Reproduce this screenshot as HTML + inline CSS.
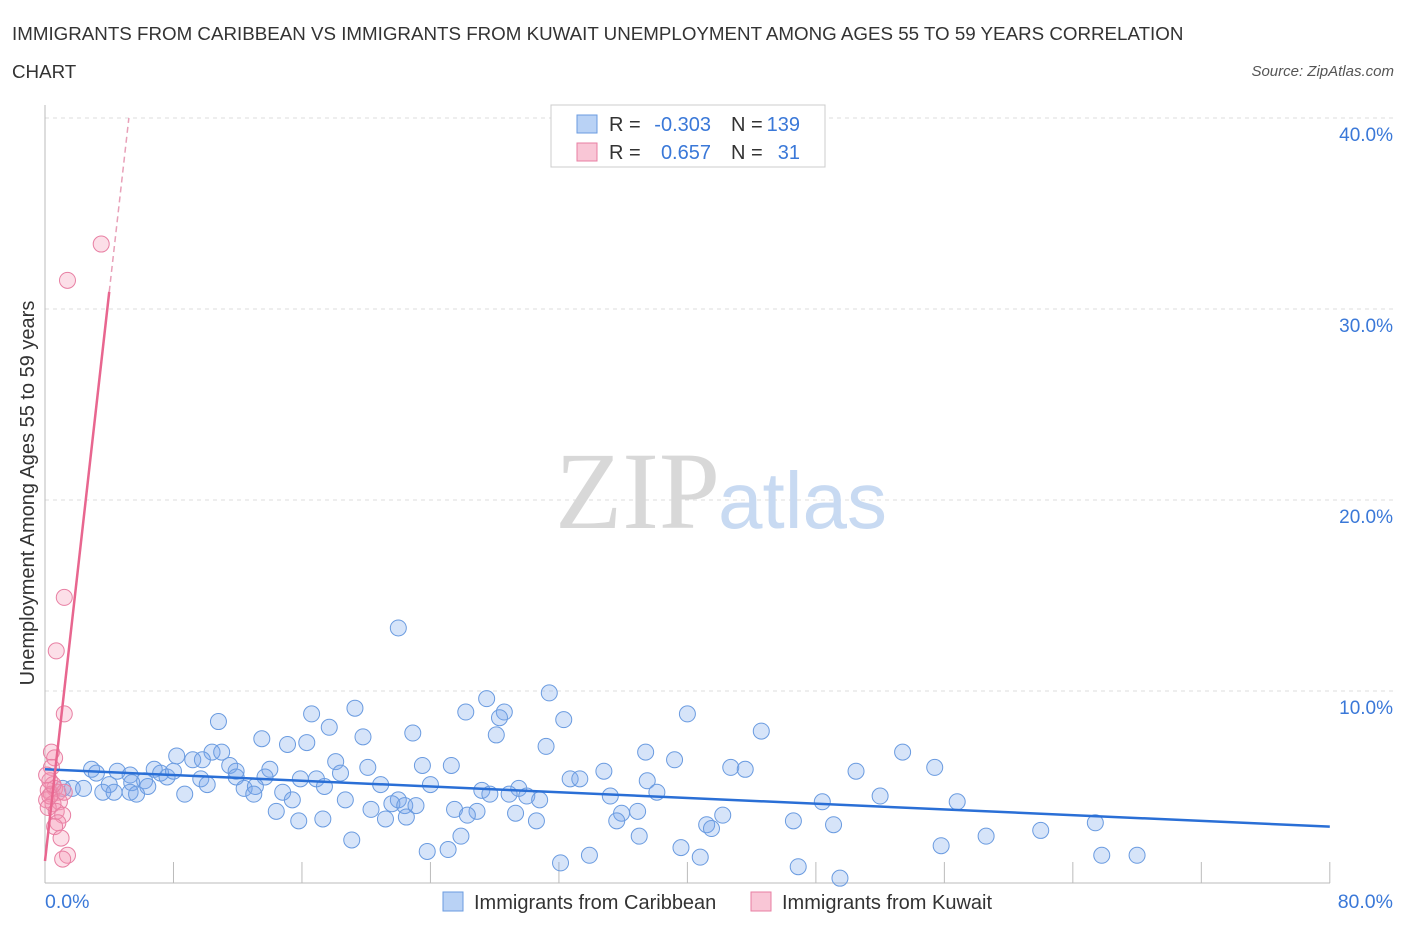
<!DOCTYPE html>
<html><head><meta charset="utf-8">
<style>
body{margin:0;background:#fff;font-family:"Liberation Sans",sans-serif;}
svg{display:block}
</style></head>
<body>
<svg width="1406" height="930" viewBox="0 0 1406 930" xmlns="http://www.w3.org/2000/svg">
<text x="12" y="40" font-size="18.75" fill="#333">IMMIGRANTS FROM CARIBBEAN VS IMMIGRANTS FROM KUWAIT UNEMPLOYMENT AMONG AGES 55 TO 59 YEARS CORRELATION</text>
<text x="12" y="78" font-size="18.75" fill="#333">CHART</text>
<text x="1394" y="76" font-size="15" font-style="italic" fill="#555" text-anchor="end">Source: ZipAtlas.com</text>
<g id="grid"></g>
<text x="555" y="528" font-size="110" font-family="Liberation Serif,serif" fill="#d8d8d8">ZIP</text>
<text x="718" y="528" font-size="80" fill="#c8daf2">atlas</text>
<line x1="45" y1="105" x2="45" y2="883" stroke="#bbb"/>
<line x1="45" y1="883" x2="1330" y2="883" stroke="#bbb"/>
<g id="xticks"></g>
<g id="yticks"></g>
<text x="45" y="908" font-size="19.5" fill="#3a78d8">0.0%</text>
<text x="1393" y="908" font-size="19.5" fill="#3a78d8" text-anchor="end">80.0%</text>
<text transform="translate(34,493) rotate(-90)" font-size="20" fill="#333" text-anchor="middle">Unemployment Among Ages 55 to 59 years</text>
<g id="pts"></g>
<g id="trends"></g>
<g>
<rect x="551" y="105" width="274" height="62" fill="#fff" stroke="#ccc"/>
<rect x="577" y="115" width="20" height="18" fill="#b9d2f5" stroke="#6a9be0"/>
<rect x="577" y="143" width="20" height="18" fill="#f9c6d6" stroke="#e87fa3"/>
<g font-size="20" fill="#333">
<text x="609" y="131">R =</text><text x="711" y="131" text-anchor="end" fill="#3a78d8">-0.303</text>
<text x="731" y="131">N =</text><text x="800" y="131" text-anchor="end" fill="#3a78d8">139</text>
<text x="609" y="159">R =</text><text x="711" y="159" text-anchor="end" fill="#3a78d8">0.657</text>
<text x="731" y="159">N =</text><text x="800" y="159" text-anchor="end" fill="#3a78d8">31</text>
</g>
</g>
<g>
<rect x="443" y="892" width="20" height="19" fill="#b9d2f5" stroke="#6a9be0"/>
<text x="474" y="909" font-size="20" fill="#333">Immigrants from Caribbean</text>
<rect x="751" y="892" width="20" height="19" fill="#f9c6d6" stroke="#e87fa3"/>
<text x="782" y="909" font-size="20" fill="#333">Immigrants from Kuwait</text>
</g>
</svg>
<script>
const blueX=[22.0,31.4,27.5,26.2,28.6,28.3,40.0,19.3,16.6,10.8,32.3,17.7,13.5,19.8,22.9,28.1,44.6,15.1,16.3,31.2,53.4,37.4,8.2,10.4,11.0,9.2,9.8,39.2,18.1,25.3,23.5,20.1,11.5,42.7,43.6,55.4,34.8,50.5,14.0,11.9,2.9,3.2,4.5,6.8,7.2,5.3,7.6,8.0,6.2,9.7,11.9,13.7,15.9,18.4,16.9,32.7,33.3,37.5,5.4,4.0,6.4,10.1,12.4,13.1,17.4,20.9,24.0,29.5,27.2,1.1,1.7,2.4,3.6,4.3,5.3,5.7,8.7,13.0,14.8,27.7,28.9,30.0,38.1,35.2,52.0,15.4,18.7,22.0,30.8,21.6,22.4,23.1,48.4,56.8,14.4,20.3,25.5,26.9,29.3,35.9,36.9,42.2,26.3,15.8,17.3,21.2,22.5,30.6,35.6,46.6,49.1,65.4,41.2,41.5,62.0,25.9,37.0,58.6,19.1,55.8,39.6,23.8,25.1,33.9,40.8,65.8,68.0,32.1,46.9,49.5];
const blueY=[13.3,9.9,9.6,8.9,8.9,8.6,8.8,9.1,8.8,8.4,8.5,8.1,7.5,7.6,7.8,7.7,7.9,7.2,7.3,7.1,6.8,6.8,6.6,6.8,6.8,6.4,6.4,6.4,6.3,6.1,6.1,6.0,6.1,6.0,5.9,6.0,5.8,5.8,5.9,5.8,5.9,5.7,5.8,5.9,5.7,5.6,5.5,5.8,5.3,5.4,5.5,5.5,5.4,5.7,5.4,5.4,5.4,5.3,5.2,5.1,5.0,5.1,4.9,5.0,5.0,5.1,5.1,4.9,4.8,4.9,4.9,4.9,4.7,4.7,4.7,4.6,4.6,4.6,4.7,4.6,4.6,4.5,4.7,4.5,4.5,4.3,4.3,4.3,4.3,4.1,4.0,4.0,4.2,4.2,3.7,3.8,3.8,3.7,3.6,3.6,3.7,3.5,3.5,3.2,3.3,3.3,3.4,3.2,3.2,3.2,3.0,3.1,3.0,2.8,2.7,2.4,2.4,2.4,2.2,1.9,1.8,1.6,1.7,1.4,1.3,1.4,1.4,1.0,0.8,0.2];
const pinkX=[3.5,1.4,1.2,0.7,1.2,0.4,0.6,0.4,0.3,0.6,0.2,0.4,0.8,0.1,0.5,0.9,0.2,0.7,1.1,0.8,0.6,1.0,1.4,1.1,1.2,0.3,0.5,0.1];
const pinkY=[33.4,31.5,14.9,12.1,8.8,6.8,6.5,6.0,5.3,4.9,4.8,4.6,4.7,4.3,4.1,4.2,3.9,3.7,3.5,3.1,2.9,2.3,1.4,1.2,4.7,4.5,5.1,5.6];
const blueTrend=[5.9,2.9];
const pinkTrend=[1.1,7.45];
const yTicks=[10,20,30,40];
const xTickVals=[0,8,16,24,32,40,48,56,64,72,80];
const NS="http://www.w3.org/2000/svg";
const sx=v=>45+v*16.06, sy=v=>882-v*19.1;
function mk(tag,attrs,parent){const e=document.createElementNS(NS,tag);for(const k in attrs)e.setAttribute(k,attrs[k]);parent.appendChild(e);return e;}
const grid=document.getElementById('grid'),yt=document.getElementById('yticks'),xt=document.getElementById('xticks');
yTicks.forEach(v=>{
 const l=mk('line',{x1:45,x2:1393,y1:sy(v),y2:sy(v),stroke:'#ddd','stroke-dasharray':'4,4'},grid);
 
 
 const t=mk('text',{x:1393,y:sy(v)+23,'font-size':19,fill:'#3a78d8','text-anchor':'end'},yt);
 t.textContent=v.toFixed(1)+'%';
 
 
});
xTickVals.forEach(v=>{
 const l=mk('line',{x1:sx(v),x2:sx(v),y1:862,y2:883,stroke:'#bbb'},xt);
 
 
});
const pts=document.getElementById('pts');
blueX.forEach((x,i)=>{
 const c=mk('circle',{cx:sx(x),cy:sy(blueY[i]),r:8,fill:'rgba(120,165,235,0.3)',stroke:'#6a9be0','stroke-width':1},pts);
 
 
});
pinkX.forEach((x,i)=>{
 const c=mk('circle',{cx:sx(x),cy:sy(pinkY[i]),r:8,fill:'rgba(245,150,180,0.3)',stroke:'#e87fa3','stroke-width':1},pts);
 
 
});
const tr=document.getElementById('trends');
const bl=mk('line',{x1:sx(0),y1:sy(blueTrend[0]),x2:sx(80),y2:sy(blueTrend[1]),stroke:'#2a6fd6','stroke-width':2.5},tr);


const pEnd=4.0, pDash=(40-pinkTrend[0])/pinkTrend[1];
const pl=mk('line',{x1:sx(0),y1:sy(pinkTrend[0]),x2:sx(pEnd),y2:sy(pinkTrend[0]+pinkTrend[1]*pEnd),stroke:'#e8668f','stroke-width':2.5},tr);


const pd=mk('line',{x1:sx(pEnd),y1:sy(pinkTrend[0]+pinkTrend[1]*pEnd),x2:sx(pDash),y2:sy(40),stroke:'#e8a0b8','stroke-width':1.5,'stroke-dasharray':'6,4'},tr);


</script>
</body></html>
